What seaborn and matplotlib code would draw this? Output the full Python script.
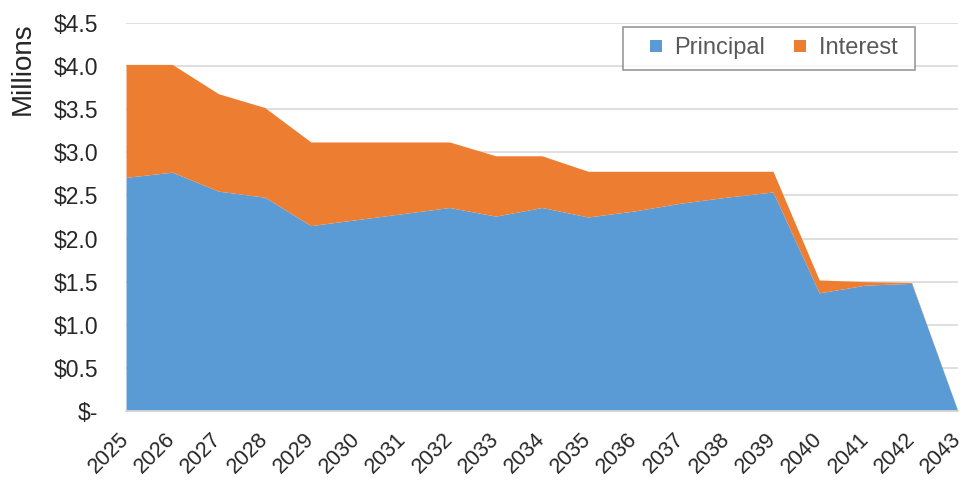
import seaborn as sns
import matplotlib.pyplot as plt
import numpy as np
from matplotlib.lines import Line2D
from matplotlib.ticker import MultipleLocator, FuncFormatter

years = list(range(2025, 2044))
principal = [2.71, 2.77, 2.55, 2.48, 2.15, 2.22, 2.29, 2.36, 2.26, 2.36,
             2.25, 2.32, 2.41, 2.48, 2.54, 1.37, 1.46, 1.48, 0.0]
total = [4.02, 4.02, 3.68, 3.52, 3.12, 3.12, 3.12, 3.12, 2.96, 2.96,
         2.78, 2.78, 2.78, 2.78, 2.78, 1.52, 1.50, 1.49, 0.0]
interest = [t - p for t, p in zip(total, principal)]
series_names = ["Principal", "Interest"]

colors = ["#5B9BD5", "#ED7D31"]
text_color = "#262626"
sns.set_theme(style="whitegrid", palette=colors,
              rc={"grid.color": "#d9d9d9", "grid.linewidth": 1.2})
plt.rcParams['font.family'] = ['Liberation Sans', 'DejaVu Sans']

fig = plt.figure(figsize=(9.65, 4.82), dpi=100)
ax = fig.add_axes([0.1306, 0.1473, 0.862, 0.805])

ax.stackplot(years, principal, interest, labels=series_names,
             colors=colors, linewidth=0)

ax.set_xlim(2025, 2043)
ax.set_ylim(0, 4.5)
ax.yaxis.set_major_locator(MultipleLocator(0.5))
ax.yaxis.set_major_formatter(FuncFormatter(lambda v, _: "$-" if v == 0 else f"${v:.1f}"))
ax.set_xticks(years)
ax.set_xticklabels([str(y) for y in years], rotation=45, ha="right", va="center",
                   rotation_mode="anchor", fontsize=15.5, color=text_color)
ax.tick_params(axis="y", labelsize=16.5, pad=20, labelcolor=text_color, length=0)
ax.tick_params(axis="x", pad=18, length=0)
ax.xaxis.grid(False)
ax.set_axisbelow(True)
fig.text(23 / 965, 1 - 22 / 482, "Millions", rotation=90, ha="center", va="top",
         fontsize=20, color=text_color)
for s in ["top", "right", "left"]:
    ax.spines[s].set_visible(False)
ax.spines["bottom"].set_color("#d9d9d9")

handles = [Line2D([], [], linestyle="none", marker="s", markersize=8.5,
                  markerfacecolor=c, markeredgewidth=0) for c in colors]
leg = ax.legend(handles, [series_names[0], series_names[1] + " "],
                loc="upper right", bbox_to_anchor=(0.948, 0.99), ncol=2,
                fontsize=17, frameon=True, fancybox=False, handlelength=1.9,
                handletextpad=-0.15, columnspacing=0.5,
                borderpad=0.45, borderaxespad=0)
leg.get_frame().set_edgecolor("#7f7f7f")
leg.get_frame().set_linewidth(1.2)
for t in leg.get_texts():
    t.set_color("#595959")

plt.savefig("out.png", dpi=100)
